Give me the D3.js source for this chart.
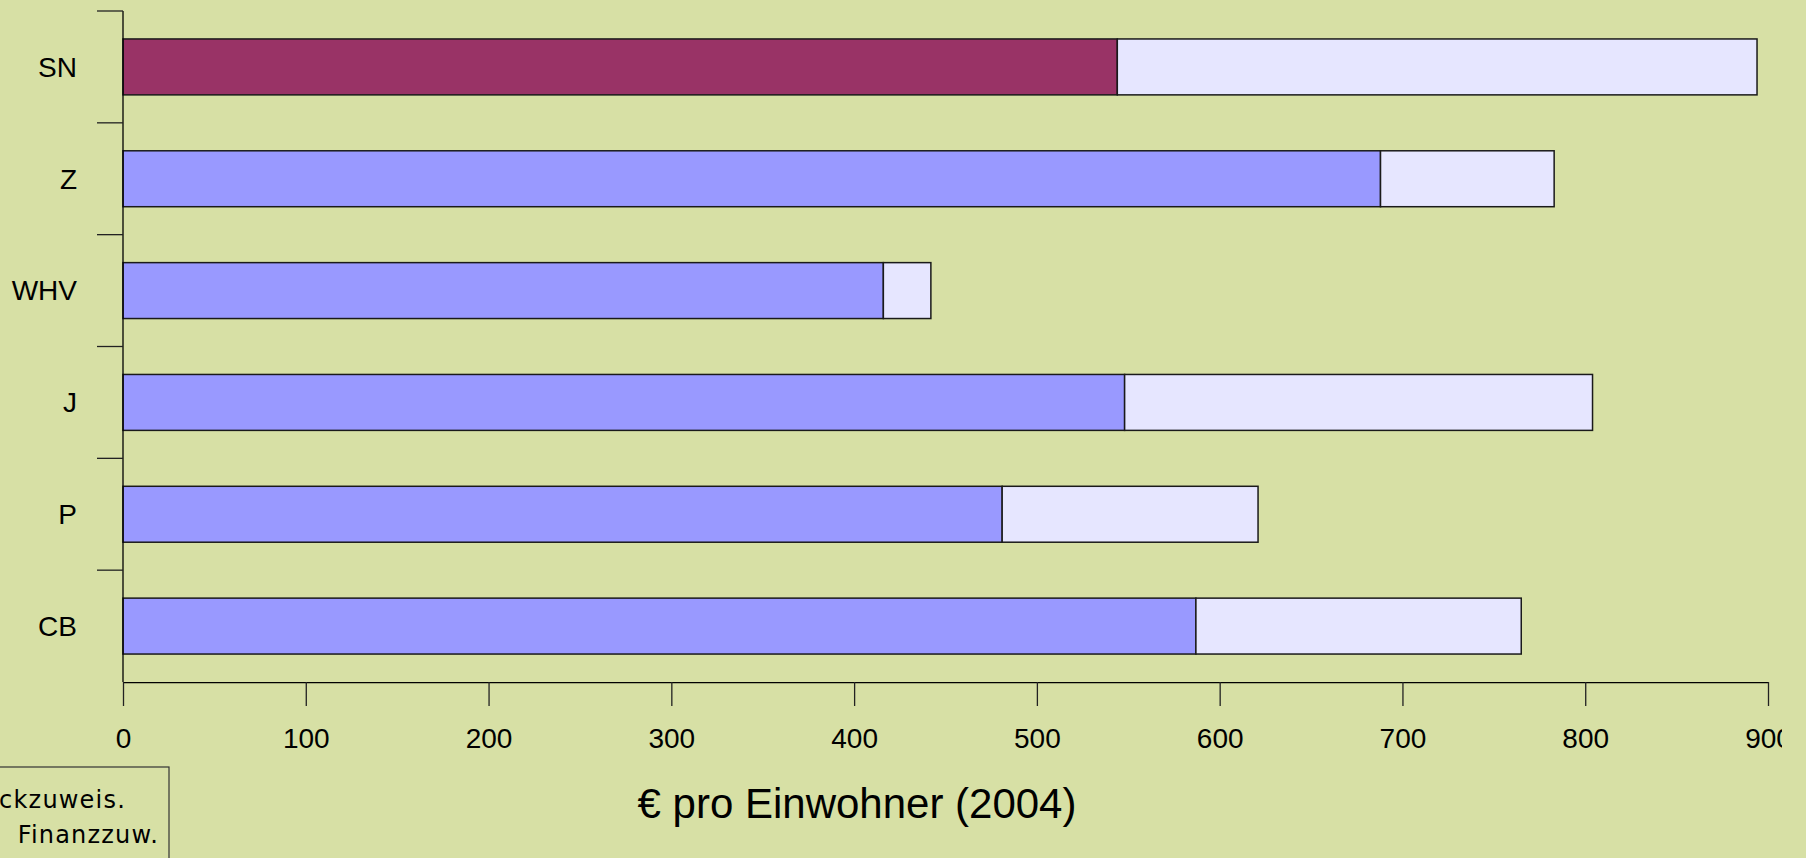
<!DOCTYPE html>
<html>
<head>
<meta charset="utf-8">
<script src="https://cdn.jsdelivr.net/npm/d3@7"></script>
<style>
  html, body { margin: 0; padding: 0; background: #D7E0A5; overflow: hidden; }
  svg { display: block; }
</style>
</head>
<body>
<script>
// ---- data ----
const categories = ["SN", "Z", "WHV", "J", "P", "CB"];
const segment1 = [544, 688, 416, 548, 481, 587];   // first (dark) segment
const segment2 = [350, 95, 26, 256, 140, 178];     // second (light) segment
const xTicks = [0, 100, 200, 300, 400, 500, 600, 700, 800, 900];
const legendLabels = ["Zweckzuweis.", "Finanzzuw."];
const axisTitle = "€ pro Einwohner (2004)";

// ---- layout ----
const W = 1806, H = 858;
const svg = d3.select("body").append("svg").attr("width", W).attr("height", H);
svg.append("rect").attr("width", W).attr("height", H).attr("fill", "#D7E0A5");

const x = d3.scaleLinear().domain([0, 900]).range([123, 1768]);
const y = d3.scaleBand().domain(categories).range([11, 682]).paddingInner(0.5).paddingOuter(0.25);

const font = "'Liberation Sans', Arial, sans-serif";

// bars
const rows = categories.map((c, i) => ({ c, i, a: segment1[i], b: segment2[i] }));
const g = svg.append("g");
g.selectAll("rect.s1").data(rows).join("rect")
  .attr("class", "s1")
  .attr("x", d => x(0))
  .attr("y", d => y(d.c))
  .attr("width", d => x(d.a) - x(0))
  .attr("height", y.bandwidth())
  .attr("fill", d => d.i === 0 ? "#993366" : "#9999FF")
  .attr("stroke", "#1a1a1a").attr("stroke-width", 1.5);
g.selectAll("rect.s2").data(rows).join("rect")
  .attr("class", "s2")
  .attr("x", d => x(d.a))
  .attr("y", d => y(d.c))
  .attr("width", d => x(d.a + d.b) - x(d.a))
  .attr("height", y.bandwidth())
  .attr("fill", "#E6E6FF")
  .attr("stroke", "#1a1a1a").attr("stroke-width", 1.5);

// y axis
const [y0, y1] = y.range();
svg.append("line").attr("x1", x(0)).attr("x2", x(0)).attr("y1", y0).attr("y2", y1)
  .attr("stroke", "#000").attr("stroke-width", 1.3);
svg.selectAll("line.ytick").data(categories).join("line")
  .attr("class", "ytick")
  .attr("x1", x(0) - 26).attr("x2", x(0))
  .attr("y1", (d, i) => y0 + i * y.step())
  .attr("y2", (d, i) => y0 + i * y.step())
  .attr("stroke", "#222").attr("stroke-width", 1.3);
svg.selectAll("text.ylab").data(categories).join("text")
  .attr("class", "ylab")
  .attr("x", 77)
  .attr("y", d => y(d) + y.bandwidth() / 2)
  .attr("dy", "0.35em")
  .attr("text-anchor", "end")
  .attr("font-family", font).attr("font-size", 28).attr("fill", "#000")
  .text(d => d);

// x axis (clipped at right like the reference)
svg.append("clipPath").attr("id", "clipX").append("rect")
  .attr("x", 0).attr("y", 0).attr("width", 1782).attr("height", H);
const xAxis = svg.append("g")
  .attr("transform", `translate(0,${y1})`)
  .attr("clip-path", "url(#clipX)")
  .call(d3.axisBottom(x).tickValues(xTicks).tickSize(24).tickSizeOuter(0).tickPadding(22).tickFormat(d3.format("d")));
xAxis.select(".domain").attr("stroke", "#000").attr("stroke-width", 1.3);
xAxis.selectAll(".tick line").attr("stroke", "#222").attr("stroke-width", 1.3);
xAxis.selectAll(".tick text").attr("font-family", font).attr("font-size", 28).attr("fill", "#000");

// axis title
svg.append("text")
  .attr("x", 857).attr("y", 818)
  .attr("text-anchor", "middle")
  .attr("font-family", font).attr("font-size", 42).attr("fill", "#000")
  .text(axisTitle);

// legend (partly off-canvas, as in the reference)
svg.append("rect").attr("x", -20).attr("y", 767).attr("width", 189).attr("height", 130)
  .attr("fill", "none").attr("stroke", "#333").attr("stroke-width", 1.2);
const legY = [808, 843];
const legEnd = [126, 159];
svg.selectAll("text.leg").data(legendLabels).join("text")
  .attr("class", "leg")
  .attr("x", (d, i) => legEnd[i]).attr("y", (d, i) => legY[i])
  .attr("text-anchor", "end")
  .attr("font-family", "'DejaVu Sans', Verdana, sans-serif")
  .attr("font-size", 24).attr("letter-spacing", 1.2).attr("fill", "#000")
  .text(d => d);
</script>
</body>
</html>
